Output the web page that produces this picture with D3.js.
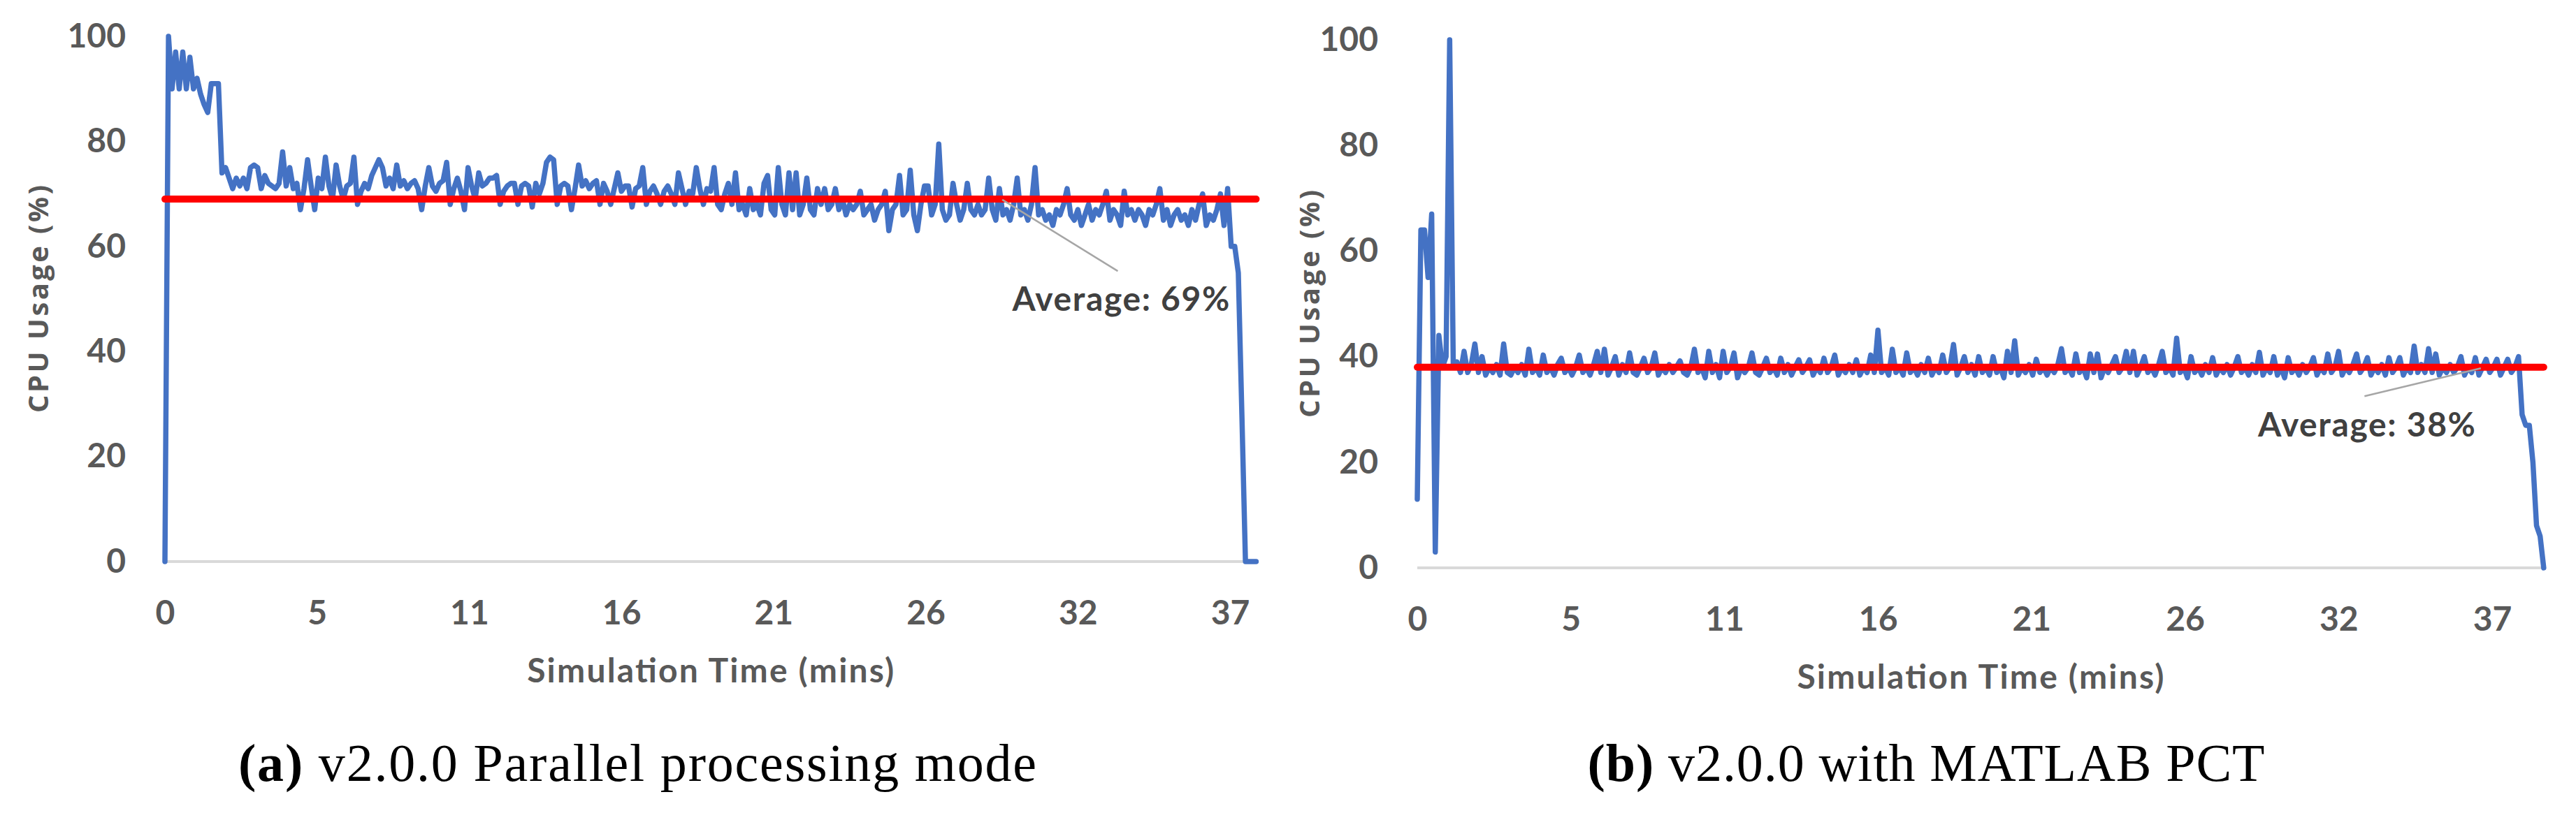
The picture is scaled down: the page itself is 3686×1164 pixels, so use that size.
<!DOCTYPE html>
<html>
<head>
<meta charset="utf-8">
<script src="https://cdn.jsdelivr.net/npm/d3@7.9.0/dist/d3.min.js"></script>
<style>
  body { margin: 0; background: #fff; }
  svg { display: block; }
</style>
</head>
<body>
<svg id="chart" width="3686" height="1164"></svg>
<script>
// x axis: Excel category labels (minutes), one label every 16/3 min
const xTickLabels = ["0", "5", "11", "16", "21", "26", "32", "37"];
const tickEvery = 16 / 3;
const yTicks = [0, 20, 40, 60, 80, 100];
const sampleStep = 1 / 8; // minutes between readings

// (a) v2.0.0 parallel processing mode, CPU %
const cpuParallel = [
  0, 100, 90, 97, 90, 97, 90, 96, 90, 92, 89, 87, 85.5, 91, 91, 91,
  74, 75, 73, 71, 73, 71.5, 73, 71, 75, 75.5, 75, 71, 73.5, 72, 71.5, 71,
  72, 78, 71.5, 75, 71, 72, 67, 71, 76.5, 71.5, 67, 73, 71, 77, 71.5, 69,
  75.5, 71.5, 69, 71.5, 72, 77, 68, 70.5, 72, 71, 73.5, 75, 76.5, 75, 71.5, 73,
  71, 75.5, 71.5, 72.5, 71, 72, 72.5, 71, 67, 71.5, 75, 71.5, 70.5, 72, 72.5, 76,
  68, 71, 73, 70.5, 67, 75, 71.5, 69, 74, 71.5, 72, 73, 73, 73.5, 68, 70.5,
  71.5, 72, 72, 68, 71.5, 72, 71.5, 67.5, 72, 70, 72, 76, 77, 76.5, 68, 71.5,
  72, 71.5, 67, 71, 75.5, 71.5, 72.5, 71, 72, 72.5, 68, 72, 70.5, 68, 71, 74,
  70.5, 71.5, 71.5, 67.5, 71, 71.5, 75, 68, 70.5, 71.5, 70, 68, 70.5, 71.5, 70, 68,
  74, 71, 68, 70.5, 70, 75, 71, 68, 71, 70.5, 75, 68, 67, 70, 72, 68,
  74, 67, 68, 66, 71, 67, 68, 66, 72, 73.5, 67, 66, 75, 68, 66, 74,
  67, 74, 66, 68, 73, 67, 66, 71, 68, 71, 67, 68, 71, 67, 69, 66,
  68, 67, 68, 70.5, 66, 67, 68, 65, 67, 68, 70.5, 63, 67, 68, 73.5, 66,
  67, 74.5, 66, 63, 68, 71.5, 71.5, 66, 68, 79.5, 67, 65, 66, 72, 68, 65,
  67, 72, 67, 66, 68, 66, 67, 73, 67, 65, 71, 66, 67, 65, 68, 73,
  66, 67, 65, 68, 75, 66, 67, 65, 66, 64, 67, 66, 68, 71, 66, 65,
  67, 64, 66, 68, 65, 67, 66, 68, 70.5, 65, 67, 66, 64, 70.5, 66, 67,
  65, 67, 66, 64, 67, 66, 68, 71, 65, 67, 64, 66, 67, 65, 66, 64,
  67, 65, 68, 70, 64, 66, 65, 67, 70, 64, 71, 60, 60, 55, 28, 0,
  0, 0, 0
];

// (b) v2.0.0 with MATLAB PCT
const cpuPct = [
  13, 64, 64, 55, 67, 3, 44, 38, 40, 100, 38, 39, 37, 41, 37, 38.5,
  42.4, 37, 40, 36.5, 38, 37, 38.5, 36.5, 42.4, 37, 36.5, 38, 37, 38.5, 36.5, 41.4,
  37, 38, 36.5, 40.3, 37, 38, 36.5, 38.5, 39.7, 37, 38, 36.5, 38, 40.3, 37, 38,
  36.5, 38.5, 41, 37, 41.4, 36.5, 38, 40, 36.5, 38.5, 37, 40.7, 37, 36.5, 38, 39.7,
  37, 38, 40.7, 36.5, 38, 37, 38.5, 37, 38, 39.2, 37, 36.5, 38, 41.4, 37, 38,
  36, 41, 37, 38.5, 36, 41, 37, 38, 40.7, 36, 38, 37, 38, 40.7, 37, 36.5,
  38, 39.7, 37, 38, 36.5, 39.7, 37, 38.5, 36.5, 38, 39.4, 37, 38, 39.4, 36.5, 38,
  37, 39.7, 37, 38, 40.3, 36.5, 38, 37, 38.5, 37, 39.4, 36.5, 38, 37, 40.3, 37,
  45, 37, 38, 36.5, 41.4, 37, 38, 36.5, 40.7, 37, 38, 36.5, 38.5, 37, 39.7, 36.5,
  38, 37, 40.3, 37, 38, 42.3, 36.5, 38, 40, 37, 38.5, 36.5, 40, 37, 38, 36.5,
  40, 37, 38, 36, 41, 37, 43, 36.5, 38, 37, 38.5, 36.5, 39.5, 37, 38, 36.5,
  38, 37, 38.5, 41.5, 37, 38, 36.5, 40.5, 37, 38, 36, 40.5, 37, 40.5, 36, 38,
  37, 38.5, 40, 37, 38, 41, 37, 41, 36.5, 38, 40, 37, 38, 36.5, 38.5, 41,
  37, 38, 36.5, 43.5, 37, 38, 36, 40, 37, 38, 36.5, 38.5, 37, 39.8, 36.5, 38,
  37, 38.5, 36.5, 38, 40, 37, 38, 36.5, 38.5, 37, 40.8, 36.5, 38, 37, 40, 36.5,
  38, 36, 39.8, 37, 38, 36.5, 38.5, 37, 38, 39.8, 36.5, 38, 37, 40.5, 37, 38,
  41, 36.5, 38, 37, 38.5, 40.5, 37, 38, 39.8, 36.5, 38, 37, 38.5, 36.5, 39.8, 37,
  38, 39.8, 36.5, 38, 37, 42, 37, 38.5, 37, 41.5, 37, 40.5, 36.5, 38, 37, 38.5,
  37, 38, 40, 36.5, 38, 37, 39.8, 36.5, 38, 39.5, 37, 38, 39.5, 36.5, 38, 39.5,
  37, 38, 40, 29, 27, 27, 20, 8, 6, 0
];

const averages = [69, 38];
const averageLabels = ["Average: 69%", "Average: 38%"];
const captionTags = ["(a)", "(b)"];
const captionTexts = [" v2.0.0 Parallel processing mode", " v2.0.0 with MATLAB PCT"];
const yTitle = "CPU Usage (%)";
const xTitle = "Simulation Time (mins)";

// layout of the two panels (pixels), annotation anchors in data units
const panels = [
  { values: cpuParallel, x0: 236, x37: 1760, yTop: 52, yBase: 804, yTitleX: 53, captionX: 912, capLen: 1142,
    labelAt: [29.7, 47.8], leader: [[29.35, 68.9], [33.4, 55.3]] },
  { values: cpuPct, x0: 2028, x37: 3566, yTop: 57, yBase: 813, yTitleX: 1872, captionX: 2756, capLen: 969,
    labelAt: [29.2, 24.9], leader: [[36.94, 37.8], [32.9, 32.5]] }
];

const svg = d3.select("#chart");
svg.append("rect").attr("width", 3686).attr("height", 1164).attr("fill", "#fff");

const grey = "#595959";
const sans = "Lato, 'Open Sans', sans-serif";

panels.forEach((p, k) => {
  const tEnd = (p.values.length - 1) * sampleStep;
  const x = d3.scaleLinear().domain([0, tickEvery * (xTickLabels.length - 1)]).range([p.x0, p.x37]);
  const y = d3.scaleLinear().domain([0, 100]).range([p.yBase, p.yTop]);
  const g = svg.append("g");

  // horizontal category axis line
  g.append("line")
    .attr("x1", x(0)).attr("x2", x(tEnd) + 2)
    .attr("y1", y(0)).attr("y2", y(0))
    .attr("stroke", "#d9d9d9").attr("stroke-width", 4);

  // y axis labels
  g.append("g")
    .attr("transform", `translate(${x(0)},0)`)
    .call(d3.axisLeft(y).tickValues(yTicks).tickSize(0).tickPadding(56))
    .call(a => a.select(".domain").remove())
    .attr("font-family", sans).attr("font-size", 48).attr("font-weight", 700)
    .selectAll("text").attr("fill", grey);

  // x axis labels
  g.append("g")
    .attr("transform", `translate(0,${y(0)})`)
    .call(d3.axisBottom(x)
      .tickValues(xTickLabels.map((_, i) => i * tickEvery))
      .tickFormat((d, i) => xTickLabels[i])
      .tickSize(0))
    .call(a => a.select(".domain").remove())
    .attr("font-family", sans).attr("font-size", 48).attr("font-weight", 700)
    .selectAll("text")
      .attr("fill", grey)
      .attr("y", 71).attr("dy", null)
      .attr("dominant-baseline", "central");

  // CPU series
  const line = d3.line()
    .x((d, i) => x(i * sampleStep))
    .y(d => y(d));
  g.append("path")
    .datum(p.values)
    .attr("d", line)
    .attr("fill", "none")
    .attr("stroke", "#4472c4")
    .attr("stroke-width", 7.5)
    .attr("stroke-linejoin", "round")
    .attr("stroke-linecap", "round");

  // average line
  g.append("line")
    .attr("x1", x(0)).attr("x2", x(tEnd))
    .attr("y1", y(averages[k])).attr("y2", y(averages[k]))
    .attr("stroke", "#ff0000").attr("stroke-width", 10)
    .attr("stroke-linecap", "round");

  // callout
  g.append("line")
    .attr("x1", x(p.leader[0][0])).attr("y1", y(p.leader[0][1]))
    .attr("x2", x(p.leader[1][0])).attr("y2", y(p.leader[1][1]))
    .attr("stroke", "#a6a6a6").attr("stroke-width", 2.5);
  g.append("text")
    .attr("x", x(p.labelAt[0])).attr("y", y(p.labelAt[1]))
    .attr("font-family", sans).attr("font-size", 48).attr("font-weight", 700)
    .attr("fill", "#404040")
    .attr("textLength", 311)
    .text(averageLabels[k]);

  // axis titles
  g.append("text")
    .attr("transform", `translate(${p.yTitleX},${(y(0) + y(100)) / 2}) rotate(-90)`)
    .attr("text-anchor", "middle").attr("dominant-baseline", "central")
    .attr("font-family", "'Open Sans', sans-serif").attr("font-size", 40).attr("font-weight", 700)
    .attr("fill", grey)
    .attr("textLength", 326)
    .text(yTitle);
  g.append("text")
    .attr("x", (x(0) + x(tEnd)) / 2).attr("y", y(0) + 154)
    .attr("text-anchor", "middle").attr("dominant-baseline", "central")
    .attr("font-family", sans).attr("font-size", 48).attr("font-weight", 700)
    .attr("fill", grey)
    .attr("textLength", 525)
    .text(xTitle);

  // sub-figure caption
  const cap = svg.append("text")
    .attr("x", p.captionX).attr("y", 1118)
    .attr("text-anchor", "middle")
    .attr("font-family", "'Liberation Serif', 'DejaVu Serif', serif")
    .attr("font-size", 76)
    .attr("fill", "#000")
    .attr("textLength", p.capLen);
  cap.append("tspan").attr("font-weight", 700).text(captionTags[k]);
  cap.append("tspan").text(captionTexts[k]);
});
</script>
</body>
</html>
